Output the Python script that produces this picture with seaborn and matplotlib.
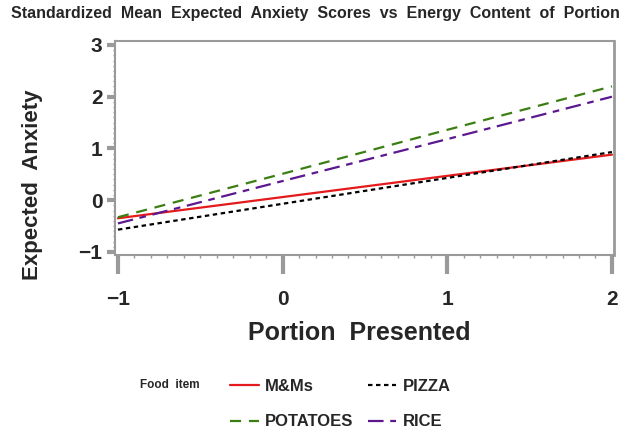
import numpy as np
import pandas as pd
import matplotlib
matplotlib.use("Agg")
import matplotlib.pyplot as plt
from matplotlib.ticker import MultipleLocator
import seaborn as sns

# values (lines at each standardized portion)
portion = [-1, 0, 1, 2]
mms = [-0.35, 0.06, 0.47, 0.88]
pizza = [-0.57, -0.07, 0.43, 0.93]
potatoes = [-0.33, 0.51, 1.36, 2.20]
rice = [-0.45, 0.37, 1.18, 2.00]
foods = ["M&Ms", "PIZZA", "POTATOES", "RICE"]

df = pd.DataFrame({
    "Portion": portion * 4,
    "Anxiety": mms + pizza + potatoes + rice,
    "Food item": np.repeat(foods, len(portion)),
})

sns.set_style("white")
plt.rcParams["font.family"] = ["Liberation Sans", "DejaVu Sans"]
plt.rcParams["font.weight"] = "bold"

palette = {"M&Ms": "#e41a1c", "PIZZA": "#000000", "POTATOES": "#3b7f12", "RICE": "#5c1890"}
dashes = {"M&Ms": "", "PIZZA": (2, 1.6), "POTATOES": (5, 3.5), "RICE": (7, 3, 3, 3)}

fig = plt.figure(figsize=(6.3, 4.3), dpi=100)
ax = fig.add_axes([0.1825, 0.407, 0.792, 0.498])

sns.lineplot(data=df, x="Portion", y="Anxiety", hue="Food item", style="Food item",
             palette=palette, dashes=dashes, linewidth=1.6, ax=ax, legend=True)

ax.set_xlim(-1.018, 2.012)
ax.set_ylim(-1.06, 3.08)
ax.xaxis.set_minor_locator(MultipleLocator(0.1))
ax.yaxis.set_minor_locator(MultipleLocator(0.1))
ax.set_xticks([-1, 0, 1, 2])
ax.set_xticklabels(["\u22121", "0", "1", "2"])
ax.set_yticks([-1, 0, 1, 2, 3])
ax.set_yticklabels(["\u22121", "0", "1", "2", "3"])

grey = "#9a9a9a"
for s in ax.spines.values():
    s.set_color(grey)
    s.set_linewidth(1.5)
ax.spines["right"].set_linewidth(2)

ax.tick_params(axis="x", which="major", direction="out", length=14, width=3,
               color=grey, labelsize=15, pad=11, bottom=True)
ax.tick_params(axis="x", which="minor", direction="out", length=2.5, width=1,
               color=grey, bottom=True)
ax.tick_params(axis="y", which="major", direction="out", length=6, width=3,
               color=grey, labelsize=15, pad=3, left=True)
ax.tick_params(axis="y", which="minor", direction="out", length=1.5, width=1,
               color=grey, left=True)

ax.set_xlabel("Portion  Presented", fontsize=18, fontweight="bold")
ax.set_ylabel("Expected  Anxiety", fontsize=16, fontweight="bold")
ax.xaxis.set_label_coords(0.49, -0.31)
ax.yaxis.set_label_coords(-0.145, 0.33)

fig.suptitle("Standardized  Mean  Expected  Anxiety  Scores  vs  Energy  Content  of  Portion",
             x=0.5, y=0.985, fontsize=11.5, fontweight="bold")

# legend: two columns, food item label on the left
handles, labels = ax.get_legend_handles_labels()
ax.get_legend().remove()
order = [labels.index(n) for n in ["M&Ms", "POTATOES", "PIZZA", "RICE"]]
fig.legend([handles[i] for i in order], [labels[i] for i in order],
           loc="upper left", bbox_to_anchor=(0.355, 0.135), ncol=2,
           frameon=False, fontsize=12, handlelength=1.7, handletextpad=0.4,
           columnspacing=0.85, labelspacing=1.25, borderaxespad=0)
fig.text(0.222, 0.105, "Food  item", fontsize=8.5, fontweight="bold", va="center")

fig.savefig("out.png", dpi=100)
